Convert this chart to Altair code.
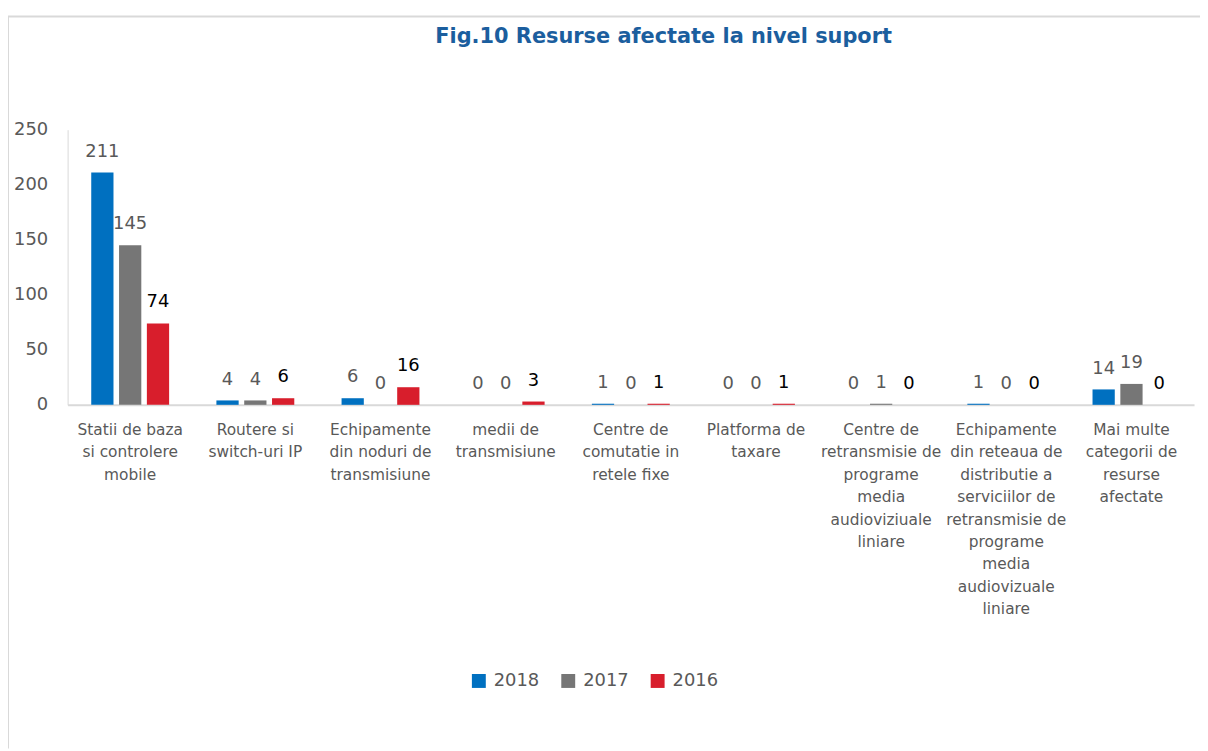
import altair as alt
import pandas as pd

# ---- data ----
categories = [
    "Statii de baza|si controlere|mobile",
    "Routere si|switch-uri IP",
    "Echipamente|din noduri de|transmisiune",
    "medii de|transmisiune",
    "Centre de|comutatie in|retele fixe",
    "Platforma de|taxare",
    "Centre de|retransmisie de|programe|media|audioviziuale|liniare",
    "Echipamente|din reteaua de|distributie a|serviciilor de|retransmisie de|programe|media|audiovizuale|liniare",
    "Mai multe|categorii de|resurse|afectate",
]
years = ["2018", "2017", "2016"]
values_2018 = [211, 4, 6, 0, 1, 0, 0, 1, 14]
values_2017 = [145, 4, 0, 0, 0, 0, 1, 0, 19]
values_2016 = [74, 6, 16, 3, 1, 1, 0, 0, 0]
y_ticks = [0, 50, 100, 150, 200, 250]
title_text = "Fig.10 Resurse afectate la nivel suport"

colors = ["#0070C0", "#767676", "#D81E2C"]

rows = []
for i, c in enumerate(categories):
    for yr, vals in zip(years, [values_2018, values_2017, values_2016]):
        rows.append({"cat": c, "year": yr, "value": vals[i]})
df = pd.DataFrame(rows)

W, H = 1134, 277
FONT = "DejaVu Sans"

x_enc = alt.X(
    "cat:N",
    sort=categories,
    scale=alt.Scale(paddingInner=1 / 3, paddingOuter=1 / 6),
    axis=alt.Axis(
        title=None,
        labelAngle=0,
        labelExpr="split(datum.label, '|')",
        labelFont=FONT,
        labelFontSize=15.5,
        labelColor="#595959",
        labelLineHeight=22.5,
        labelPadding=18,
        labelLimit=0,
        ticks=False,
        domainColor="#D9D9D9",
        domainWidth=2,
    ),
)
xoff_enc = alt.XOffset(
    "year:N", sort=years, scale=alt.Scale(paddingInner=0.2, paddingOuter=0.1)
)
y_enc = alt.Y(
    "value:Q",
    scale=alt.Scale(domain=[0, 250], nice=False),
    axis=alt.Axis(
        title=None,
        values=y_ticks,
        ticks=False,
        grid=False,
        labelPadding=20,
        labelFont=FONT,
        labelFontSize=18,
        labelColor="#595959",
        domainColor="#D9D9D9",
        domainWidth=1,
    ),
)

bars = alt.Chart(df).mark_bar().encode(
    x=x_enc,
    xOffset=xoff_enc,
    y=y_enc,
    color=alt.Color(
        "year:N",
        sort=years,
        scale=alt.Scale(domain=years, range=colors),
        legend=alt.Legend(
            title=None,
            orient="none",
            legendX=405,
            legendY=546,
            direction="horizontal",
            columns=3,
            symbolType="square",
            symbolSize=196,
            symbolStrokeWidth=0,
            labelFont=FONT,
            labelFontSize=18,
            labelColor="#595959",
            labelOffset=6,
            columnPadding=20,
            padding=0,
        ),
    ),
)

labels = alt.Chart(df).mark_text(
    dy=-16, baseline="alphabetic", align="center", font=FONT, fontSize=18
).encode(
    x=alt.X("cat:N", sort=categories),
    xOffset=alt.XOffset("year:N", sort=years),
    y=alt.Y("value:Q"),
    text=alt.Text("value:Q"),
    color=alt.condition(
        "datum.year == '2016'", alt.value("#000000"), alt.value("#595959")
    ),
)

title = alt.Chart(pd.DataFrame({"t": [title_text]})).mark_text(
    font=FONT, fontSize=21, fontWeight="bold", color="#1B5E9E",
    align="center", baseline="alphabetic",
).encode(x=alt.value(600), y=alt.value(-87), text="t:N")

frame_df = pd.DataFrame({"k": [0]})
left_border = alt.Chart(frame_df).mark_rule(color="#D9D9D9", strokeWidth=2).encode(
    x=alt.value(-60), y=alt.value(-114), y2=alt.value(H + 346)
)
top_border = alt.Chart(frame_df).mark_rule(color="#D9D9D9", strokeWidth=2).encode(
    x=alt.value(-61), x2=alt.value(W + 20), y=alt.value(-114)
)

chart = (
    alt.layer(left_border, top_border, bars, labels, title)
    .properties(
        width=W,
        height=H,
        background="white",
        padding={"left": 60, "top": 120, "right": 6, "bottom": 346},
        autosize=alt.AutoSizeParams(type="none"),
    )
    .configure_view(strokeWidth=0, stroke=None)
)

chart.save("out.html", embed_options={"renderer": "svg", "actions": False})
